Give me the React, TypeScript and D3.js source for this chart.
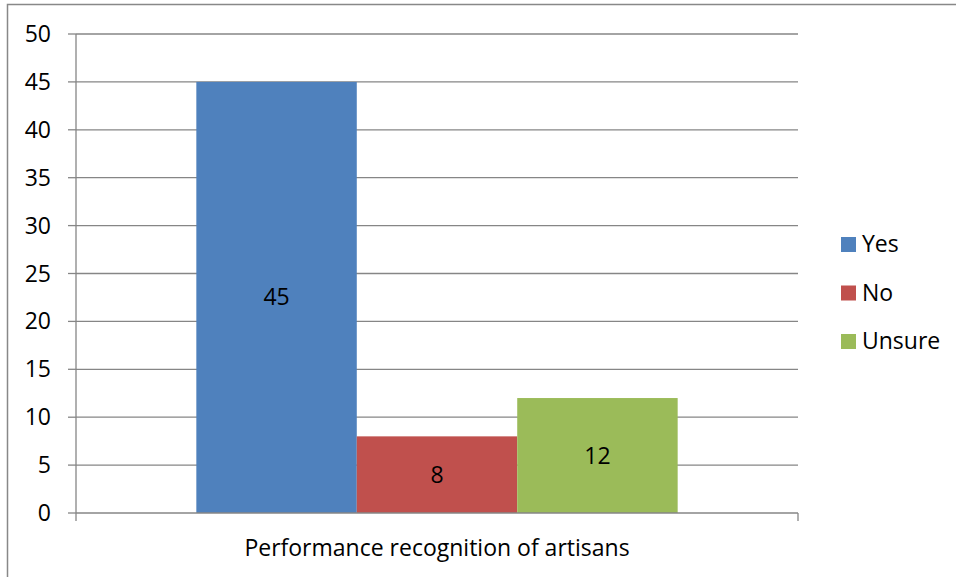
import React from "react";
import * as d3 from "d3";

const categories = ["Performance recognition of artisans"];
const seriesNames = ["Yes", "No", "Unsure"];
const seriesValues = [45, 8, 12];
const seriesColors = ["#4F81BD", "#C0504D", "#9BBB59"];
const yTicks = [0, 5, 10, 15, 20, 25, 30, 35, 40, 45, 50];

const W = 956;
const H = 577;
const FONT = "'Open Sans', 'Liberation Sans', sans-serif";

export default function App() {
  const left = 76, right = 798, top = 34, bottom = 513;
  const y = d3.scaleLinear().domain([0, 50]).range([bottom, top]);
  const x = d3.scaleBand<string>().domain(seriesNames).range([left, right]).paddingInner(0).paddingOuter(0.75);
  const axisColor = "#868686";
  const fs = 23;
  return (
    <svg width={W} height={H} style={{ position: "absolute", left: 0, top: 0 }} fontFamily={FONT}>
      <rect x={0} y={0} width={W} height={H} fill="#fff" />
      <rect x={7.5} y={4.5} width={W + 10} height={H + 10} fill="none" stroke="#888" strokeWidth={1.5} />
      {yTicks.filter((t) => t !== 0).map((t) => (
        <line key={"g" + t} x1={left} x2={right} y1={y(t)} y2={y(t)} stroke={axisColor} strokeWidth={1.3} />
      ))}
      {seriesNames.map((s, i) => (
        <rect key={s} x={x(s)} y={y(seriesValues[i])} width={x.bandwidth()} height={y(0) - y(seriesValues[i])} fill={seriesColors[i]} />
      ))}
      {seriesNames.map((s, i) => (
        <text key={"l" + s} x={(x(s) as number) + x.bandwidth() / 2} y={(y(seriesValues[i]) + y(0)) / 2 + 8} textAnchor="middle" fontSize={fs} fill="#000">
          {seriesValues[i]}
        </text>
      ))}
      <line x1={left} x2={left} y1={top} y2={bottom + 8} stroke={axisColor} strokeWidth={1.3} />
      <line x1={left} x2={right} y1={bottom} y2={bottom} stroke={axisColor} strokeWidth={1.3} />
      <line x1={right} x2={right} y1={bottom} y2={bottom + 8} stroke={axisColor} strokeWidth={1.3} />
      {yTicks.map((t) => (
        <g key={"t" + t}>
          <line x1={left - 8} x2={left} y1={y(t)} y2={y(t)} stroke={axisColor} strokeWidth={1.3} />
          <text x={51} y={y(t) + 8} textAnchor="end" fontSize={fs} fill="#000">{t}</text>
        </g>
      ))}
      <text x={(left + right) / 2} y={556} textAnchor="middle" fontSize={fs} fill="#000">{categories[0]}</text>
      {seriesNames.map((s, i) => (
        <g key={"lg" + s}>
          <rect x={841} y={237 + i * 48.5} width={15} height={15} fill={seriesColors[i]} />
          <text x={862} y={252 + i * 48.5} fontSize={fs} fill="#000">{s}</text>
        </g>
      ))}
    </svg>
  );
}
